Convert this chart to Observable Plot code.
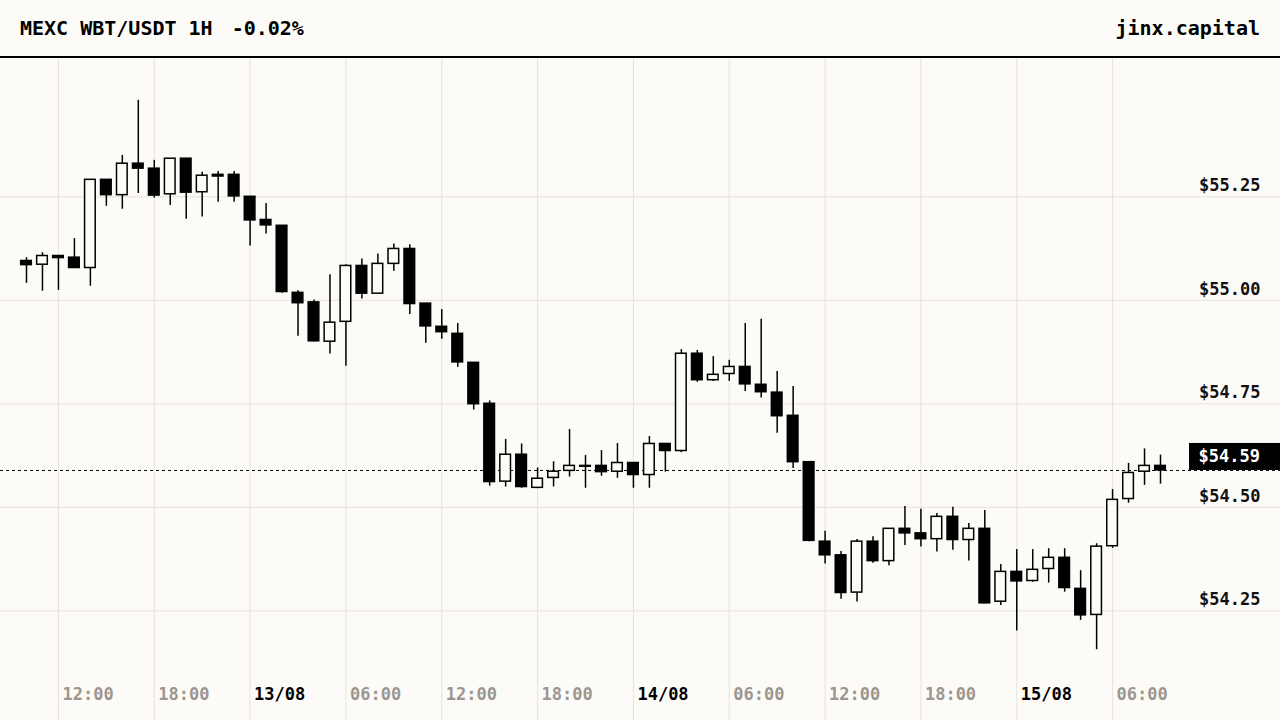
<!DOCTYPE html>
<html>
<head>
<meta charset="utf-8">
<script src="https://cdn.jsdelivr.net/npm/d3@7"></script>
<script src="https://cdn.jsdelivr.net/npm/@observablehq/plot@0.6"></script>
<style>
  html, body { margin: 0; padding: 0; background: #fdfbf7; }
  body { width: 1280px; height: 720px; overflow: hidden; font-family: "DejaVu Sans Mono", monospace; }
  #header { height: 56px; border-bottom: 2px solid #000; display: flex; align-items: center; justify-content: space-between; padding: 0 20px; box-sizing: content-box; }
  #header div { font-size: 20px; font-weight: bold; color: #000; white-space: pre; }
  #pct { margin-left: 19px; }
  #chart svg { display: block; }
</style>
</head>
<body>
<div id="header"><div><span id="sym"></span><span id="pct"></span></div><div id="brand"></div></div>
<div id="chart"></div>
<script>
const symbol = "MEXC WBT/USDT 1H";
const brand = "jinx.capital";
const startHour = "2024-08-12T10:00:00Z";

const opens = [55.095,55.086,55.107,55.103,55.078,55.291,55.254,55.330,55.318,55.256,
  55.342,55.261,55.303,55.303,55.250,55.194,55.180,55.018,54.995,54.900,
  54.948,55.083,55.016,55.088,55.124,54.992,54.936,54.919,54.849,54.750,
  54.562,54.627,54.547,54.571,54.588,54.598,54.600,54.586,54.607,54.578,
  54.653,54.636,54.871,54.807,54.822,54.839,54.796,54.777,54.721,54.609,
  54.417,54.384,54.294,54.417,54.370,54.448,54.437,54.423,54.477,54.421,
  54.448,54.272,54.344,54.322,54.351,54.378,54.303,54.240,54.406,54.520,
  54.586,54.600];
const highs = [55.103,55.115,55.107,55.149,55.291,55.291,55.350,55.483,55.338,55.342,
  55.342,55.309,55.311,55.311,55.250,55.234,55.180,55.023,55.001,55.062,
  55.086,55.100,55.112,55.136,55.134,54.992,54.978,54.944,54.849,54.757,
  54.664,54.653,54.595,54.610,54.688,54.625,54.637,54.654,54.607,54.671,
  54.653,54.881,54.879,54.864,54.855,54.944,54.954,54.828,54.792,54.609,
  54.442,54.393,54.422,54.429,54.448,54.502,54.495,54.485,54.500,54.461,
  54.492,54.362,54.398,54.398,54.400,54.400,54.347,54.412,54.543,54.606,
  54.641,54.626];
const lows = [55.041,55.022,55.024,55.078,55.034,55.227,55.220,55.258,55.247,55.229,
  55.196,55.201,55.237,55.237,55.131,55.160,55.017,54.913,54.899,54.870,
  54.841,55.003,55.016,55.070,54.966,54.896,54.906,54.838,54.735,54.551,
  54.549,54.546,54.545,54.549,54.573,54.546,54.575,54.570,54.546,54.546,
  54.585,54.632,54.802,54.804,54.804,54.780,54.764,54.679,54.594,54.417,
  54.363,54.278,54.271,54.365,54.359,54.408,54.404,54.392,54.396,54.370,
  54.268,54.263,54.201,54.319,54.317,54.295,54.227,54.156,54.401,54.510,
  54.553,54.556];
const closes = [55.085,55.107,55.102,55.078,55.291,55.254,55.330,55.318,55.253,55.342,
  55.260,55.301,55.299,55.251,55.193,55.181,55.020,54.993,54.901,54.946,
  55.083,55.016,55.088,55.124,54.991,54.937,54.923,54.850,54.749,54.561,
  54.627,54.549,54.569,54.586,54.600,54.600,54.585,54.607,54.578,54.653,
  54.636,54.871,54.807,54.820,54.839,54.797,54.778,54.720,54.609,54.419,
  54.384,54.293,54.417,54.370,54.448,54.437,54.423,54.477,54.421,54.448,
  54.268,54.344,54.321,54.349,54.378,54.305,54.239,54.405,54.518,54.583,
  54.600,54.589];

const xTickTimes = ["2024-08-12T12:00:00Z","2024-08-12T18:00:00Z","2024-08-13T00:00:00Z","2024-08-13T06:00:00Z",
  "2024-08-13T12:00:00Z","2024-08-13T18:00:00Z","2024-08-14T00:00:00Z","2024-08-14T06:00:00Z",
  "2024-08-14T12:00:00Z","2024-08-14T18:00:00Z","2024-08-15T00:00:00Z","2024-08-15T06:00:00Z"];
const xTickLabels = ["12:00","18:00","13/08","06:00","12:00","18:00","14/08","06:00","12:00","18:00","15/08","06:00"];
const yTicks = [54.25, 54.50, 54.75, 55.00, 55.25];
const yTickLabels = ["$54.25","$54.50","$54.75","$55.00","$55.25"];

const BG = "#fdfbf7";
const GRID = "#e6e2dc";
const GRAY = "#9c9690";
const FONT = "DejaVu Sans Mono";

const t0 = new Date(startHour).getTime();
const candles = opens.map((o, i) => ({
  t: new Date(t0 + i * 3600e3), o, h: highs[i], l: lows[i], c: closes[i]
}));
const last = candles[candles.length - 1];
const xTicks = xTickTimes.map((s, i) => ({t: new Date(s), label: xTickLabels[i], isDay: xTickLabels[i].includes("/")}));
const yTickData = yTicks.map((v, i) => ({v, label: yTickLabels[i]}));

const pct = (last.c - last.o) / last.o * 100;
document.getElementById("sym").textContent = symbol;
document.getElementById("pct").textContent = (pct >= 0 ? "+" : "") + pct.toFixed(2) + "%";
document.getElementById("brand").textContent = brand;

const halfBody = 20 * 60e3;
const chart = Plot.plot({
  width: 1280,
  height: 662,
  margin: 0,
  style: {background: "transparent", fontFamily: FONT},
  x: {type: "utc", domain: [candles[0].t, last.t], range: [26, 1160], axis: null},
  y: {domain: [54.0, 55.5], range: [655.8, 34.8], axis: null},
  marks: [
    Plot.ruleY(yTickData, {y: "v", stroke: GRID, strokeWidth: 1}),
    Plot.ruleX(xTicks, {x: "t", stroke: GRID, strokeWidth: 1}),
    Plot.ruleY([last.c], {stroke: "#000", strokeWidth: 1, strokeDasharray: "3,3"}),
    Plot.ruleX(candles, {x: "t", y1: "l", y2: "h", stroke: "#000", strokeWidth: 1.5}),
    Plot.rect(candles, {
      x1: d => new Date(+d.t - halfBody),
      x2: d => new Date(+d.t + halfBody),
      y1: "o", y2: "c",
      fill: d => d.c >= d.o ? BG : "#000",
      stroke: "#000", strokeWidth: 1.5
    }),
    Plot.text(yTickData, {
      y: "v", text: "label", frameAnchor: "right", dx: -20, dy: -11,
      textAnchor: "end", lineAnchor: "middle",
      fontSize: 17, fontWeight: "bold", fontFamily: FONT, fill: "#111"
    }),
    Plot.text(xTicks, {
      x: "t", text: "label", frameAnchor: "bottom", dx: 4, dy: -26,
      textAnchor: "start", lineAnchor: "middle",
      fontSize: 17, fontWeight: "bold", fontFamily: FONT,
      fill: d => d.isDay ? "#000" : GRAY
    })
  ]
});

// current price tag, positioned with the chart's own y scale
const yy = chart.scale("y").apply(last.c);
const svg = d3.select(chart);
svg.append("rect").attr("x", 1189).attr("y", yy - 27).attr("width", 91).attr("height", 27).attr("fill", "#000");
svg.append("text").attr("x", 1260).attr("y", yy - 13.5)
  .attr("text-anchor", "end").attr("dominant-baseline", "central")
  .attr("fill", "#fff").attr("font-family", FONT).attr("font-weight", "bold").attr("font-size", 17)
  .text("$" + last.c.toFixed(2));

document.getElementById("chart").appendChild(chart);
</script>
</body>
</html>
